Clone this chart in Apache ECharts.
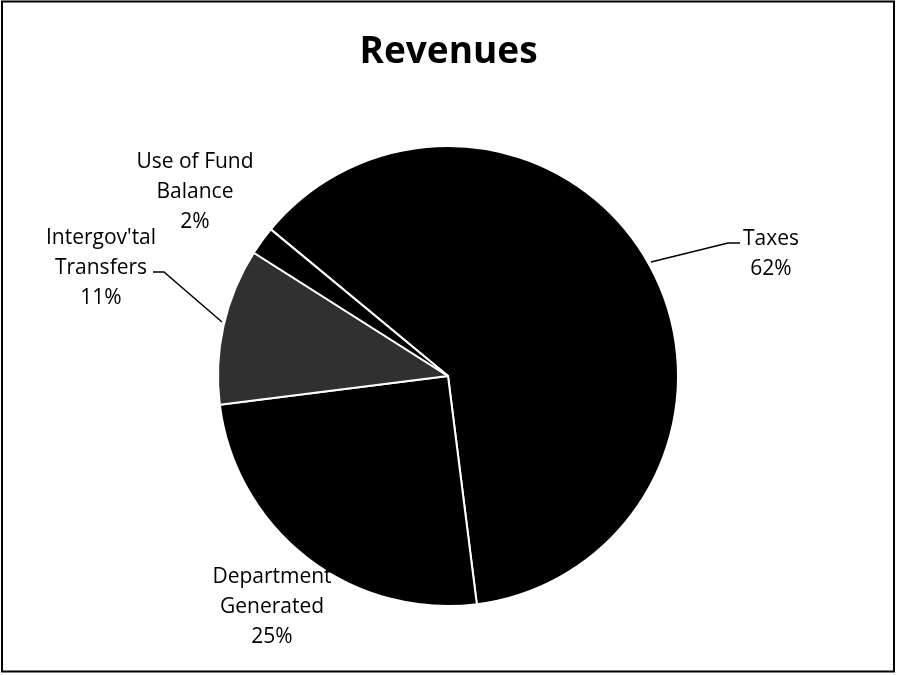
<!DOCTYPE html>
<html><head><meta charset="utf-8">
<script src="https://cdn.jsdelivr.net/npm/echarts@6/dist/echarts.min.js"></script>
<style>html,body{margin:0;padding:0;background:#fff}#c{width:897px;height:675px}</style>
</head><body><div id="c"></div>
<script>
const categories = ["Taxes", "Department\nGenerated", "Intergov'tal\nTransfers", "Use of Fund\nBalance"];
const values = [62, 25, 11, 2];
const colors = ["#000000", "#000000", "#303030", "#000000"];
const labelPos = [
  {x: 771, y: 254, line: [[651, 262], [728, 243], [740, 243]]},
  {x: 272, y: 607, line: null},
  {x: 101, y: 268, line: [[222, 322], [164, 272], [153, 272]]},
  {x: 195, y: 192, line: null}
];
const chart = echarts.init(document.getElementById('c'));
const FONT = "'Open Sans', 'Liberation Sans', sans-serif";
chart.setOption({
  backgroundColor: '#fff',
  animation: false,
  title: {
    text: 'Revenues', left: 'center', top: 29,
    textStyle: {fontFamily: FONT, fontSize: 37, fontWeight: 'bold', color: '#000'}
  },
  graphic: [{type: 'rect', shape: {x: 2, y: 1.5, width: 892, height: 670}, style: {fill: 'none', stroke: '#000', lineWidth: 2}, silent: true}],
  series: [{
    type: 'pie',
    center: [448, 376],
    radius: 230,
    startAngle: 140.4,
    clockwise: true,
    data: categories.map((c, i) => ({
      name: c, value: values[i],
      itemStyle: {color: colors[i]},
      labelLine: {show: !!labelPos[i].line}
    })),
    itemStyle: {borderColor: '#fff', borderWidth: 2},
    label: {
      show: true,
      formatter: p => p.name + '\n' + Math.round(p.percent) + '%',
      fontFamily: FONT, fontSize: 21, color: '#000', lineHeight: 30, align: 'center'
    },
    labelLine: {show: true, lineStyle: {color: '#000', width: 1.5}, length: 20, length2: 12},
    labelLayout: p => {
      const lp = labelPos[p.dataIndex];
      const r = {x: lp.x, y: lp.y, align: 'center', verticalAlign: 'middle'};
      if (lp.line) r.labelLinePoints = lp.line;
      return r;
    }
  }]
});
</script></body></html>
